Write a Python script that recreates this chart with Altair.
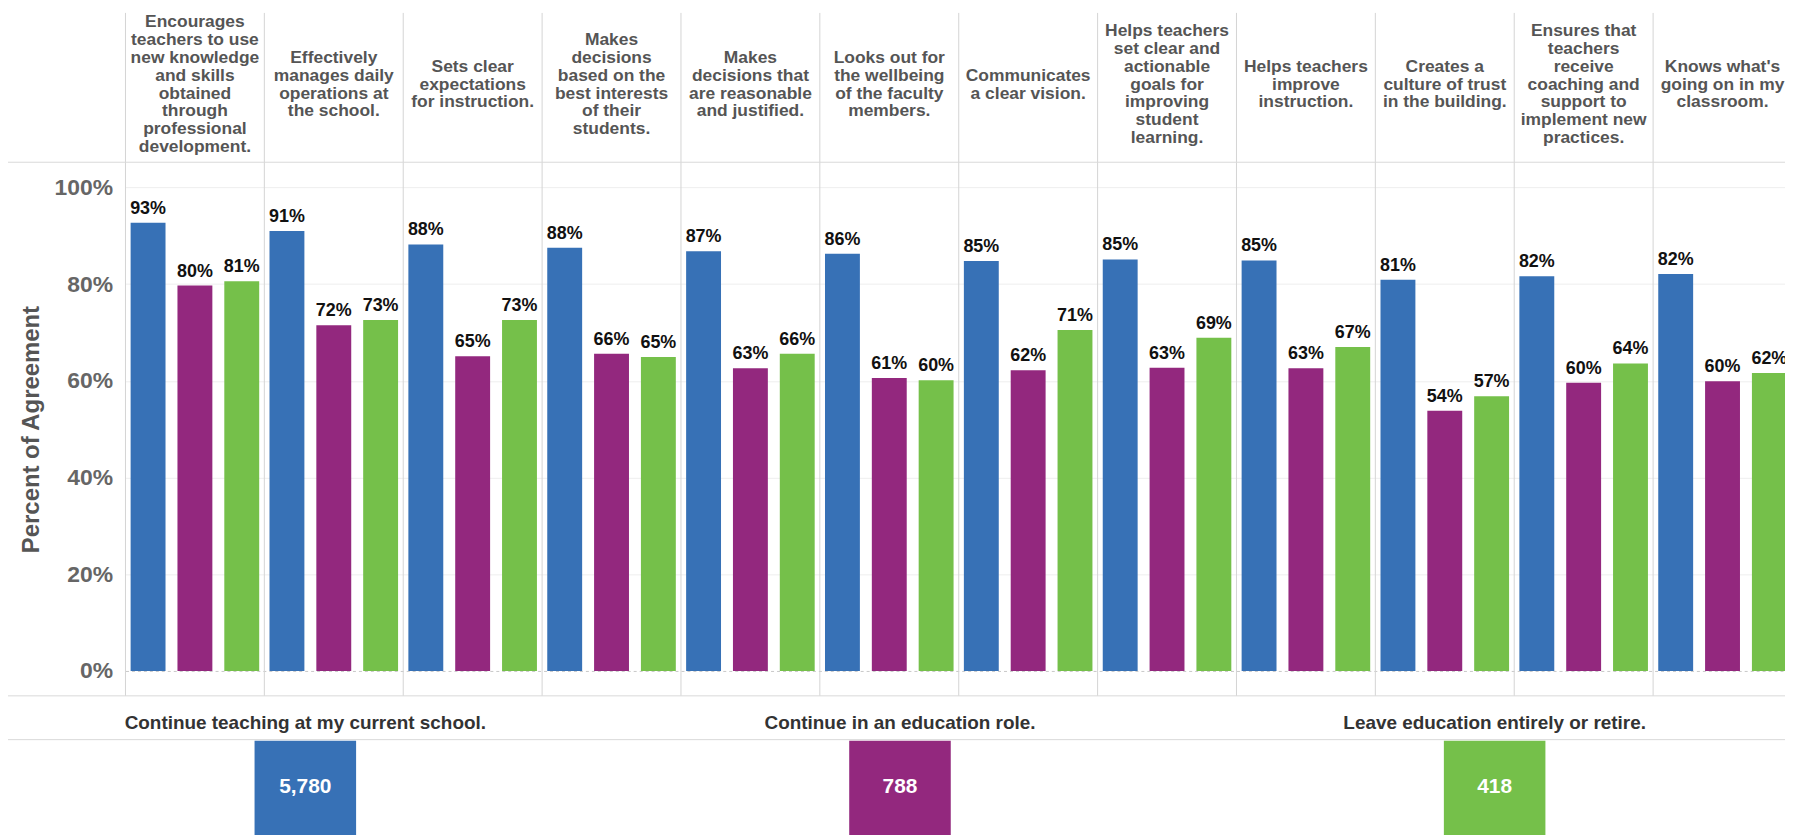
import altair as alt
import pandas as pd

# ---------------- data ----------------
statements = [
    "Encourages\nteachers to use\nnew knowledge\nand skills\nobtained\nthrough\nprofessional\ndevelopment.",
    "Effectively\nmanages daily\noperations at\nthe school.",
    "Sets clear\nexpectations\nfor instruction.",
    "Makes\ndecisions\nbased on the\nbest interests\nof their\nstudents.",
    "Makes\ndecisions that\nare reasonable\nand justified.",
    "Looks out for\nthe wellbeing\nof the faculty\nmembers.",
    "Communicates\na clear vision.",
    "Helps teachers\nset clear and\nactionable\ngoals for\nimproving\nstudent\nlearning.",
    "Helps teachers\nimprove\ninstruction.",
    "Creates a\nculture of trust\nin the building.",
    "Ensures that\nteachers\nreceive\ncoaching and\nsupport to\nimplement new\npractices.",
    "Knows what's\ngoing on in my\nclassroom.",
]
groups = [
    "Continue teaching at my current school.",
    "Continue in an education role.",
    "Leave education entirely or retire.",
]
group_colors = ["#3771b6", "#93287e", "#75c04a"]
counts = [5780, 788, 418]

stay_vals = [92.7, 91.0, 88.2, 87.5, 86.8, 86.3, 84.8, 85.1, 84.9, 80.9, 81.6, 82.1]
role_vals = [79.7, 71.5, 65.1, 65.6, 62.6, 60.6, 62.2, 62.7, 62.6, 53.8, 59.6, 59.9]
leave_vals = [80.6, 72.6, 72.6, 64.9, 65.6, 60.1, 70.5, 68.9, 67.0, 56.8, 63.6, 61.6]

y_ticks = [0, 20, 40, 60, 80, 100]

# ---------------- tables ----------------
rows = []
for g, vals in zip(groups, [stay_vals, role_vals, leave_vals]):
    for s, v in zip(statements, vals):
        rows.append({"statement": s, "group": g, "value": v})
df = pd.DataFrame(rows)

hdr = pd.DataFrame({"statement": statements})
line_rows = []
for s in statements:
    parts = s.split("\n")
    n = len(parts)
    for i, p in enumerate(parts):
        line_rows.append({"statement": s, "line": p, "k": i - (n - 1) / 2})
hdr_lines = pd.DataFrame(line_rows)

bottom = pd.DataFrame({"group": groups, "count": counts})
one = pd.DataFrame({"a": [0]})

LEFT = 118          # room for the y axis
W = 1674            # full width of the 12 statement columns (last one runs to the page edge)
VIEW_W = 1785 - LEFT
H = 536
FONT = "Liberation Sans"
HDR_C = -78
LH = 18

x_scale = alt.Scale(range=[0, W], paddingInner=0, paddingOuter=0)
x_enc = alt.X("statement:N", sort=statements, scale=x_scale, axis=None)
x_edge = alt.X("statement:N", sort=statements, bandPosition=0, scale=x_scale, axis=None)
xoff = alt.XOffset("group:N", sort=groups,
                   scale=alt.Scale(domain=groups, paddingInner=0.255, paddingOuter=0.11))
color_enc = alt.Color("group:N", scale=alt.Scale(domain=groups, range=group_colors), legend=None)
y_scale = alt.Scale(domain=[-5.15, 105.2], nice=False, zero=False)
y_enc = alt.Y(
    "value:Q",
    scale=y_scale,
    axis=alt.Axis(
        values=y_ticks,
        labelExpr="datum.value + '%'",
        labelFont=FONT, labelFontSize=23, labelFontWeight="bold", labelColor="#666666",
        labelPadding=13, ticks=False, domain=False,
        gridColor={"condition": {"test": "datum.value === 0", "value": "#c8c8c8"}, "value": "#eeeeee"},
        gridDash={"condition": {"test": "datum.value === 0", "value": [3, 3]}, "value": []},
        title="Percent of Agreement",
        titleFont=FONT, titleFontSize=24, titleFontWeight="bold", titleColor="#555555",
        titlePadding=11,
    ),
)
y_noaxis = alt.Y("value:Q", scale=y_scale, axis=None)

# separators between statement columns
seps = alt.Chart(hdr).mark_rule(color="#d4d4d4", strokeWidth=1).encode(
    x=x_edge, y=alt.value(-150), y2=alt.value(H)
)

# horizontal border lines
def hline(ypix):
    return alt.Chart(one).mark_rule(color="#d9d9d9", strokeWidth=1).encode(
        x=alt.value(-LEFT), x2=alt.value(W), y=alt.value(ypix)
    )

bars = alt.Chart(df).mark_bar().encode(
    x=x_enc, xOffset=xoff, y=y_enc, y2=alt.datum(0), color=color_enc
)

labels = alt.Chart(df).transform_calculate(
    label="format(datum.value, '.0f') + '%'"
).mark_text(
    baseline="bottom", dy=-5, font=FONT, fontSize=18, fontWeight="bold", color="#111111"
).encode(x=x_enc, xOffset=xoff, y=y_noaxis, text="label:N")

headers = alt.Chart(hdr_lines).mark_text(
    baseline="middle", align="center", font=FONT, fontSize=17.5,
    fontWeight="bold", color="#555555"
).encode(
    x=x_enc,
    y=alt.Y("k:Q", scale=alt.Scale(domain=[-1, 1], range=[HDR_C - LH, HDR_C + LH]), axis=None),
    text="line:N",
)

xb = alt.X("group:N", sort=groups,
           scale=alt.Scale(range=[-LEFT, W], paddingInner=0, paddingOuter=0), axis=None)

boxes = alt.Chart(bottom).mark_bar(width=102).encode(
    x=xb, y=alt.value(H + 45), y2=alt.value(H + 190), color=color_enc
)
group_text = alt.Chart(bottom).mark_text(
    font=FONT, fontSize=19, fontWeight="bold", color="#333333", baseline="middle"
).encode(x=xb, y=alt.value(H + 27), text="group:N")
count_text = alt.Chart(bottom).transform_calculate(
    count_label="format(datum.count, ',')"
).mark_text(
    font=FONT, fontSize=21, fontWeight="bold", color="#ffffff", baseline="middle"
).encode(x=xb, y=alt.value(H + 92), text="count_label:N")

chart = alt.layer(
    seps, hline(0), hline(H), hline(H + 44),
    bars, labels, headers, boxes, group_text, count_text
).resolve_scale(x="independent", y="independent").properties(
    width=VIEW_W, height=H,
    autosize=alt.AutoSizeParams(type="none"),
    padding={"left": LEFT, "top": 153, "right": 0, "bottom": 170},
    background="white",
).configure_view(stroke=None)

chart.save("out.html", embed_options={"renderer": "svg", "actions": False})
